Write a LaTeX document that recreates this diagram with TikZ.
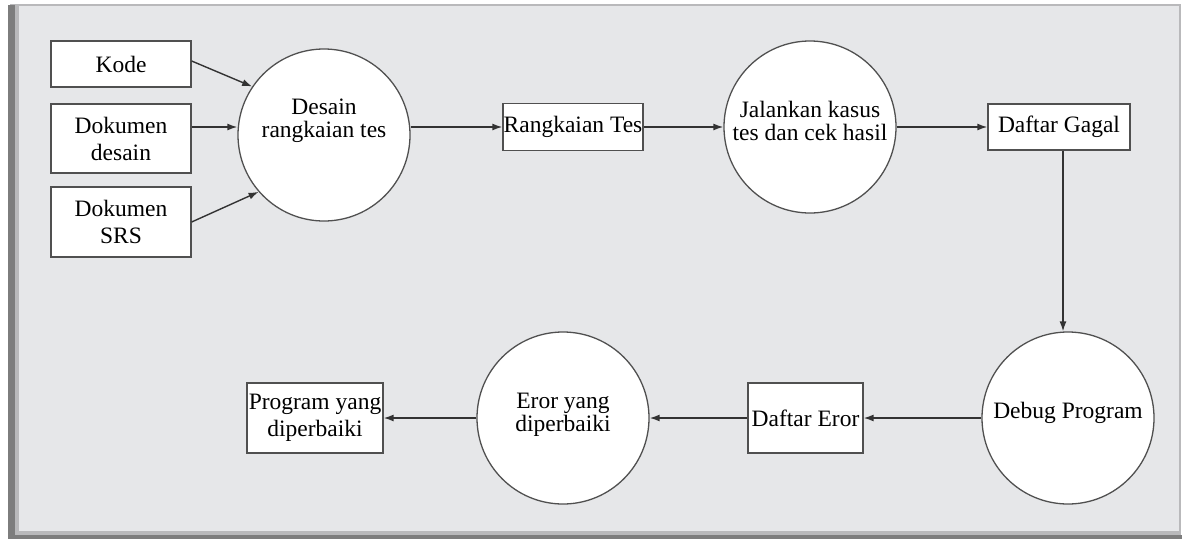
\documentclass[tikz,border=0pt]{standalone}
\usepackage{fontspec}
\setmainfont{Liberation Serif}
\usetikzlibrary{arrows.meta}
\definecolor{panel}{RGB}{230,231,233}
\definecolor{edge}{RGB}{80,80,80}
\definecolor{frameD}{RGB}{125,125,125}
\definecolor{frameL}{RGB}{185,185,187}
\begin{document}
\begin{tikzpicture}[x=1pt,y=-1pt,
  box/.style={draw=edge, line width=1.3pt, fill=white, inner sep=0pt, align=center,
    font=\fontsize{23.5}{27}\selectfont},
  circ/.style={draw=edge, line width=1.3pt, fill=white, circle, inner sep=0pt, minimum size=172pt},
  ctext/.style={inner sep=0pt, align=center, font=\fontsize{23.5}{23.5}\selectfont},
  arr/.style={draw=black!80, line width=1.4pt, -{Latex[length=10pt,width=7pt]}}]
\useasboundingbox (0,0) rectangle (1184,541);
% frame
\fill[white] (0,0) rectangle (1184,541);
\fill[panel] (10,5) rectangle (1180,536);
\fill[frameL] (10,4) rectangle (1180,6);
\fill[frameL] (1179,4) rectangle (1181,536);
\fill[frameL] (15,5) rectangle (19,534);
\fill[frameL] (15,531) rectangle (1181,535);
\fill[frameD] (8,5) rectangle (15,539);
\fill[frameD] (8,535) rectangle (1182,539);
% input boxes
\node[box, minimum width=140pt, minimum height=46pt] (kode) at (121,64) {Kode};
\node[box, minimum width=140pt, minimum height=69pt] (dd) at (121,138.5) {Dokumen\\desain};
\node[box, minimum width=140pt, minimum height=70pt] (srs) at (121,222) {Dokumen\\SRS};
% circles
\node[circ] (c1) at (324,135) {};
\node[ctext] (c1t) at (324,121) {Desain\\rangkaian tes};
\node[circ] (c2) at (810,127) {};
\node[ctext] (c2t) at (810,121) {Jalankan kasus\\tes dan cek hasil};
\node[circ] (c3) at (1068,418) {};
\node[ctext] (c3t) at (1068,413) {Debug Program};
\node[circ] (c4) at (563,418) {};
\node[ctext] (c4t) at (563,415) {Eror yang\\diperbaiki};
% data boxes
\node[box, minimum width=140pt, minimum height=47pt] (rt) at (573,127) {Rangkaian Tes};
\node[box, minimum width=142pt, minimum height=46pt] (dg) at (1059,127) {Daftar Gagal};
\node[box, minimum width=115pt, minimum height=70pt] (de) at (805.5,418) {Daftar Eror};
\node[box, minimum width=136pt, minimum height=70pt] (prog) at (315,418) {Program yang\\diperbaiki};
% connectors
\draw[arr] ([yshift=3]kode.east) -- (c1.146);
\draw[arr] ([yshift=11.5]dd.east) -- ([yshift=11.5]dd.east -| c1.west);
\draw[arr] (srs.east) -- (c1.221);
\draw[arr] (c1.east |- rt) -- (rt);
\draw[arr] (rt) -- (c2);
\draw[arr] (c2) -- (dg);
\draw[arr] ([xshift=4]dg.south) -- ([xshift=4]dg.south |- c3.north);
\draw[arr] (c3) -- (de);
\draw[arr] (de) -- (c4);
\draw[arr] (c4) -- (prog);
\end{tikzpicture}
\end{document}
